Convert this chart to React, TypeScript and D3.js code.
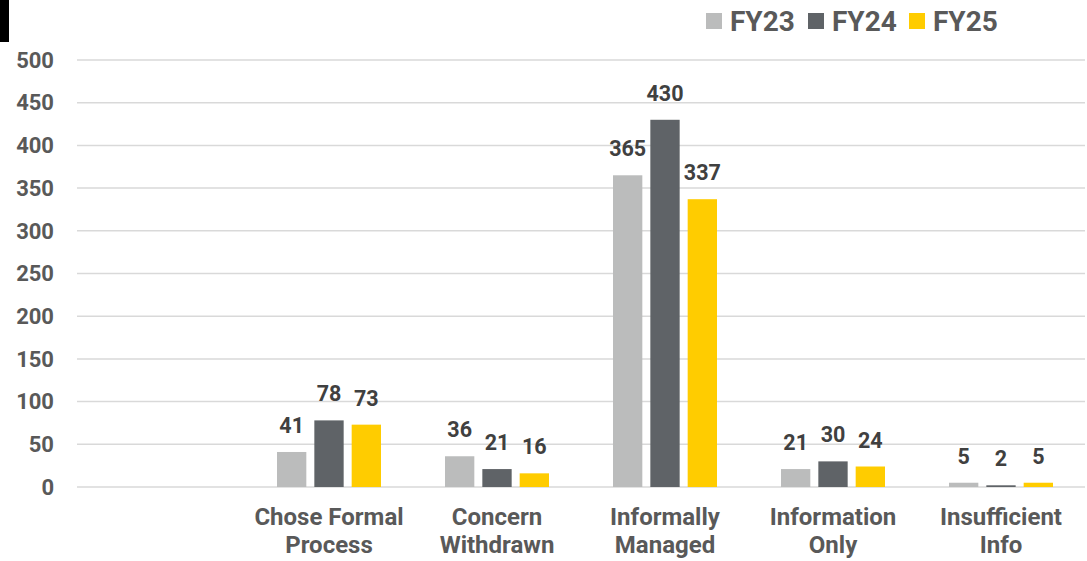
import React from 'react';
import * as d3 from 'd3';

const categories = ['', 'Chose Formal Process', 'Concern Withdrawn', 'Informally Managed', 'Information Only', 'Insufficient Info'];
const categoryLines: string[][] = [[], ['Chose Formal', 'Process'], ['Concern', 'Withdrawn'], ['Informally', 'Managed'], ['Information', 'Only'], ['Insufficient', 'Info']];
const seriesNames = ['FY23', 'FY24', 'FY25'];
const fy23 = [41, 36, 365, 21, 5];
const fy24 = [78, 21, 430, 30, 2];
const fy25 = [73, 16, 337, 24, 5];
const yTicks = [0, 50, 100, 150, 200, 250, 300, 350, 400, 450, 500];
const colors = ['#BBBCBC', '#5F6367', '#FFCC00'];

const W = 1087, H = 561;
const FONT = 'Roboto, "Noto Sans", sans-serif';

export default function App() {
  const seriesValues = [fy23, fy24, fy25];
  const x0 = d3.scaleBand<string>().domain(categories).range([77, 1085]).paddingInner(0).paddingOuter(0);
  const y = d3.scaleLinear().domain([0, 500]).range([487, 60]);
  const groupW = 104;
  const x1 = d3.scaleBand<string>().domain(seriesNames).range([0, groupW]).paddingInner(8 / 37.3).paddingOuter(0);
  const realCats = categories.slice(1);

  return (
    <svg width={W} height={H} style={{ position: 'absolute', left: 0, top: 0, background: '#fff' }} fontFamily={FONT}>
      <rect x={0} y={0} width={9} height={42} fill="#000" />
      {yTicks.map(t => (
        <g key={t}>
          <line x1={77} x2={1085} y1={y(t)} y2={y(t)} stroke="#d9d9d9" strokeWidth={1.5} />
          <text x={54} y={y(t)} dy="0.35em" textAnchor="end" fontSize={22} fontWeight={700} fill="#595959">{t}</text>
        </g>
      ))}
      {realCats.map((c, ci) => {
        const cx = (x0(c) as number) + x0.bandwidth() / 2;
        const gx = cx - groupW / 2;
        return (
          <g key={c}>
            {seriesNames.map((s, si) => {
              const v = seriesValues[si][ci];
              const bx = gx + (x1(s) as number);
              const top = y(v);
              return (
                <g key={s}>
                  <rect x={bx} y={top} width={x1.bandwidth()} height={y(0) - top} fill={colors[si]} />
                  <text x={bx + x1.bandwidth() / 2} y={top - 19} textAnchor="middle" fontSize={21.5} fontWeight={700} fill="#404040">{v}</text>
                </g>
              );
            })}
            {categoryLines[ci + 1].map((l, li) => (
              <text key={li} x={cx} y={517 + li * 28} dy="0.35em" textAnchor="middle" fontSize={24} fontWeight={700} fill="#595959">{l}</text>
            ))}
          </g>
        );
      })}
      {seriesNames.map((s, si) => {
        const lx = [706, 808, 909][si];
        return (
          <g key={s}>
            <rect x={lx} y={13} width={16} height={16} fill={colors[si]} />
            <text x={lx + 24} y={21} dy="0.35em" fontSize={28} fontWeight={700} fill="#595959">{s}</text>
          </g>
        );
      })}
    </svg>
  );
}
